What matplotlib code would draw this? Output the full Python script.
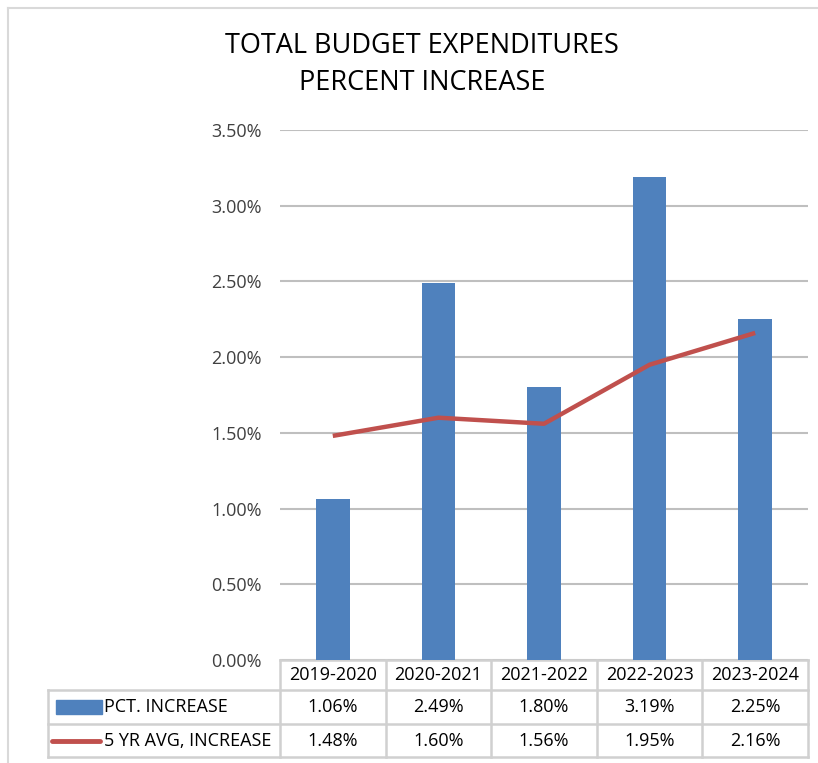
import matplotlib
matplotlib.use("Agg")
import matplotlib.pyplot as plt
import matplotlib.transforms as mtransforms
from matplotlib.lines import Line2D
from matplotlib.patches import Rectangle
from matplotlib.ticker import FuncFormatter

categories = ["2019-2020", "2020-2021", "2021-2022", "2022-2023", "2023-2024"]
pct_increase = [1.06, 2.49, 1.80, 3.19, 2.25]
avg_increase = [1.48, 1.60, 1.56, 1.95, 2.16]
series_names = ["PCT. INCREASE", "5 YR AVG, INCREASE"]
title_lines = ["TOTAL BUDGET EXPENDITURES", "PERCENT INCREASE"]

W, H = 818, 763
fig = plt.figure(figsize=(W / 100, H / 100), dpi=100)
plt.rcParams['font.family'] = ['Open Sans', 'DejaVu Sans']

def fx(px):
    return px / W

def fy(py):
    return 1 - py / H

left, right, top, bottom = 280, 808, 130, 660
ax = fig.add_axes([fx(left), fy(bottom), fx(right) - fx(left), fy(top) - fy(bottom)])

bar_color = "#4F81BD"
line_color = "#C0504D"
grid_color = "#BFBFBF"
table_color = "#D0D0D0"
text_color = "#000000"

x = list(range(len(categories)))
ax.bar(x, [v / 100 for v in pct_increase], width=0.32, color=bar_color, zorder=3)
ax.plot(x, [v / 100 for v in avg_increase], color=line_color, lw=3.2, zorder=4,
        solid_capstyle="butt")

ax.set_xlim(-0.5, len(categories) - 0.5)
ax.set_ylim(0, 0.035)
ax.set_yticks([i * 0.005 for i in range(8)])
ax.yaxis.set_major_formatter(FuncFormatter(lambda v, p: f"{v*100:.2f}%"))
ax.tick_params(axis="y", length=0, pad=13, labelsize=13, labelcolor="#404040")
ax.set_xticks([])
for s in ax.spines.values():
    s.set_visible(False)
ax.grid(axis="y", color=grid_color, lw=1.5, zorder=0)
ax.set_axisbelow(True)

# Title
fig.text(fx(422), fy(46), title_lines[0], ha="center", va="center", fontsize=19.5, color="#000000")
fig.text(fx(422), fy(83), title_lines[1], ha="center", va="center", fontsize=19.5, color="#000000")

# Data table
axh = bottom - top

def ay(py):
    return (bottom - py) / axh

tr_data = mtransforms.blended_transform_factory(ax.transData, ax.transAxes)
tr_fig = mtransforms.blended_transform_factory(fig.transFigure, ax.transAxes)

tlw = 1.8
for yy in [690, 724, 757]:
    ax.add_line(Line2D([fx(48), fx(808)], [ay(yy), ay(yy)], transform=tr_fig, color=table_color, lw=tlw, clip_on=False))
ax.add_line(Line2D([fx(280), fx(808)], [ay(660), ay(660)], transform=tr_fig, color=table_color, lw=tlw, clip_on=False))
for b in [i - 0.5 for i in range(len(categories) + 1)]:
    ax.add_line(Line2D([b, b], [ay(660), ay(757)], transform=tr_data, color=table_color, lw=tlw, clip_on=False))
ax.add_line(Line2D([fx(48), fx(48)], [ay(690), ay(757)], transform=tr_fig, color=table_color, lw=tlw, clip_on=False))

fs = 13
for i, c in enumerate(categories):
    ax.text(i, ay(675), c, transform=tr_data, ha="center", va="center", fontsize=fs, color=text_color)
    ax.text(i, ay(707), f"{pct_increase[i]:.2f}%", transform=tr_data, ha="center", va="center", fontsize=fs, color=text_color)
    ax.text(i, ay(741), f"{avg_increase[i]:.2f}%", transform=tr_data, ha="center", va="center", fontsize=fs, color=text_color)

# row labels with legend keys
ax.add_patch(Rectangle((fx(56), ay(714)), fx(102) - fx(56), ay(700) - ay(714), transform=tr_fig,
                       color=bar_color, clip_on=False))
ax.add_line(Line2D([fx(52), fx(100)], [ay(741), ay(741)], transform=tr_fig, color=line_color, lw=3.5,
                   solid_capstyle="round", clip_on=False))
ax.text(fx(104), ay(707), series_names[0], transform=tr_fig, ha="left", va="center", fontsize=fs, color=text_color)
ax.text(fx(104), ay(741), series_names[1], transform=tr_fig, ha="left", va="center", fontsize=fs, color=text_color)

# outer chart border
fig.add_artist(Line2D([fx(8), fx(8)], [fy(8), 0], color="#D9D9D9", lw=1.5))
fig.add_artist(Line2D([fx(8), 1], [fy(8), fy(8)], color="#D9D9D9", lw=1.5))

fig.savefig("out.png", dpi=100, facecolor="white")
